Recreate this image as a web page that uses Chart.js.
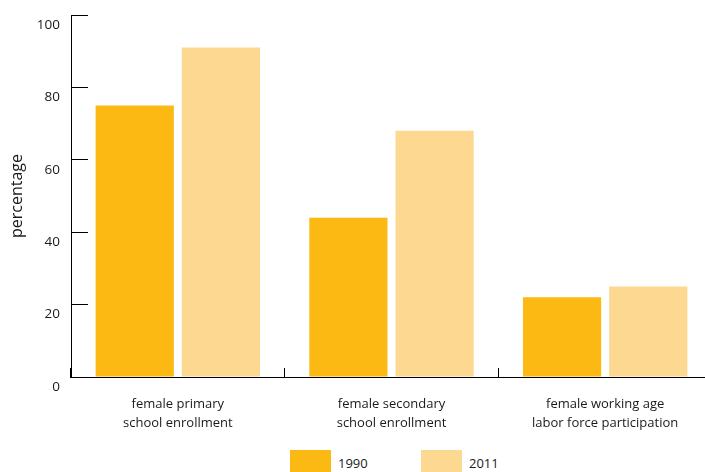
<!DOCTYPE html>
<html>
<head>
<meta charset="utf-8">
<script src="https://cdn.jsdelivr.net/npm/chart.js@4/dist/chart.umd.min.js"></script>
<style>
  html, body { margin: 0; padding: 0; background: #fff; overflow: hidden; }
  #wrap { position: relative; width: 712px; height: 437px; }
  #legend { position: absolute; left: 0; top: 450px; width: 712px; height: 30px;
            font-family: 'Open Sans', sans-serif; font-size: 13px; color: #1a1a1a; }
  .item { position: absolute; top: 0; display: flex; align-items: center; height: 26px; }
  .swatch { width: 41px; height: 26px; margin-right: 7px; }
</style>
</head>
<body>
<div id="wrap"><canvas id="chart"></canvas></div>
<div id="legend"></div>
<script>
// Chart data
const categories = [
  ['female primary', 'school enrollment'],
  ['female secondary', 'school enrollment'],
  ['female working age', 'labor force participation']
];
const years = ['1990', '2011'];
const values1990 = [75, 44, 22];
const values2011 = [91, 68, 25];
const yTicks = [0, 20, 40, 60, 80, 100];
const colors = ['#FCB914', '#FDD890'];

const ctx = document.getElementById('chart');
const chart = new Chart(ctx, {
  type: 'bar',
  data: {
    labels: categories,
    datasets: [
      { label: years[0], data: values1990, backgroundColor: colors[0] },
      { label: years[1], data: values2011, backgroundColor: colors[1] }
    ]
  },
  options: {
    responsive: true,
    maintainAspectRatio: false,
    animation: false,
    categoryPercentage: 0.807,
    barPercentage: 0.907,
    layout: { padding: { left: 5, top: 15, right: 0, bottom: 0 } },
    plugins: {
      tooltip: { enabled: false },
      legend: { display: false }
    },
    scales: {
      x: {
        border: { color: '#000', width: 1 },
        grid: { drawOnChartArea: false, tickLength: -9, color: '#000', offset: true },
        ticks: { color: '#1a1a1a', font: { family: 'Open Sans', size: 13, lineHeight: 1.45 }, padding: 27 },
        afterFit: (scale) => { scale.height = 60; }
      },
      y: {
        min: 0,
        max: 100,
        afterBuildTicks: (scale) => { scale.ticks = yTicks.map(v => ({ value: v })); },
        border: { color: '#000', width: 1 },
        grid: { drawOnChartArea: false, tickLength: -17, color: '#000' },
        ticks: { color: '#1a1a1a', font: { family: 'Open Sans', size: 13.5 }, padding: 28, labelOffset: 10 },
        title: {
          display: true,
          text: 'percentage',
          color: '#1a1a1a',
          font: { family: 'Open Sans', size: 16 },
          padding: { top: 3, bottom: 4 }
        },
        afterFit: (scale) => {
          scale.width = 66;
          scale.paddingTop = 0;
          scale.paddingBottom = 0;
        }
      }
    }
  }
});

// Legend under the chart, built from the datasets
const legend = document.getElementById('legend');
const legendLeft = [290, 421];
chart.data.datasets.forEach((ds, i) => {
  const item = document.createElement('div');
  item.className = 'item';
  item.style.left = legendLeft[i] + 'px';
  item.innerHTML = `<span class="swatch" style="background:${ds.backgroundColor}"></span><span>${ds.label}</span>`;
  legend.appendChild(item);
});
</script>
</body>
</html>
